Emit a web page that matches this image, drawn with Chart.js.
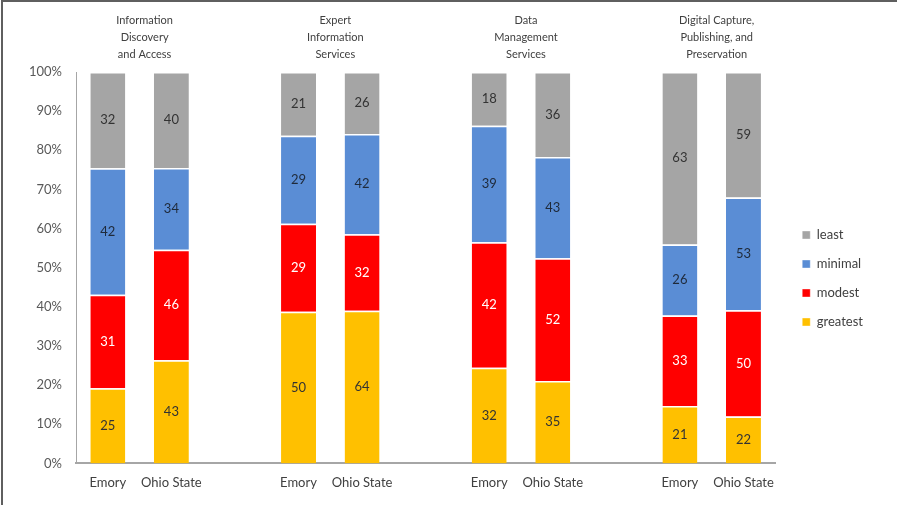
<!DOCTYPE html>
<html>
<head>
<meta charset="utf-8">
<script src="https://cdn.jsdelivr.net/npm/chart.js@4.4.1/dist/chart.umd.min.js"></script>
<style>
  html, body { margin: 0; padding: 0; background: #fff; }
  #wrap { position: relative; width: 897px; height: 505px; }
  #frame { position: absolute; left: 1px; top: 0; right: 0; bottom: 0;
           border-top: 2px solid #5f5f5f; border-left: 2px solid #5f5f5f; pointer-events: none; }
</style>
</head>
<body>
<div id="wrap">
  <canvas id="chart" width="897" height="505"></canvas>
  <div id="frame"></div>
</div>
<script>
// bars, with empty slots used as gaps between the four groups
const categories = ['Emory', 'Ohio State', '', 'Emory', 'Ohio State', '', 'Emory', 'Ohio State', '', 'Emory', 'Ohio State'];
const groupTitles = [
    ['Information', 'Discovery', 'and Access'],
    ['Expert', 'Information', 'Services'],
    ['Data', 'Management', 'Services'],
    ['Digital Capture,', 'Publishing, and', 'Preservation']
];
const groupSlots = [[0, 1], [3, 4], [6, 7], [9, 10]];

// counts shown in the segments
const greatest = [25, 43, null, 50, 64, null, 32, 35, null, 21, 22];
const modest   = [31, 46, null, 29, 32, null, 42, 52, null, 33, 50];
const minimal  = [42, 34, null, 29, 42, null, 39, 43, null, 26, 53];
const least    = [32, 40, null, 21, 26, null, 18, 36, null, 63, 59];

const yTicks = [0, 10, 20, 30, 40, 50, 60, 70, 80, 90, 100];

const totals = categories.map((c, i) =>
    greatest[i] === null ? null : greatest[i] + modest[i] + minimal[i] + least[i]);
const toPct = arr => arr.map((v, i) => v === null ? null : v / totals[i] * 100);

const series = [
    { label: 'greatest', counts: greatest, color: '#FFC000', text: '#333333' },
    { label: 'modest',   counts: modest,   color: '#FF0000', text: '#ffffff' },
    { label: 'minimal',  counts: minimal,  color: '#5A8DD5', text: '#1f2a3a' },
    { label: 'least',    counts: least,    color: '#A5A5A5', text: '#333333' }
];

const FONT = 'Lato, "Liberation Sans", sans-serif';

// count labels in the middle of each segment
const segmentLabels = {
    id: 'segmentLabels',
    afterDatasetsDraw(chart) {
        const ctx = chart.ctx;
        ctx.save();
        ctx.font = '13px ' + FONT;
        ctx.textAlign = 'center';
        ctx.textBaseline = 'middle';
        chart.data.datasets.forEach((ds, di) => {
            const meta = chart.getDatasetMeta(di);
            meta.data.forEach((bar, i) => {
                const v = series[di].counts[i];
                if (v === null) return;
                ctx.fillStyle = series[di].text;
                ctx.fillText(String(v), bar.x, (bar.y + bar.base) / 2);
            });
        });
        ctx.restore();
    }
};

// group headings above each pair of bars
const groupHeadings = {
    id: 'groupHeadings',
    afterDraw(chart) {
        const ctx = chart.ctx;
        const x = chart.scales.x;
        ctx.save();
        ctx.font = '11px ' + FONT;
        ctx.fillStyle = '#404040';
        ctx.textAlign = 'center';
        ctx.textBaseline = 'middle';
        groupTitles.forEach((lines, g) => {
            const cx = (x.getPixelForValue(groupSlots[g][0]) + x.getPixelForValue(groupSlots[g][1])) / 2 + 5;
            lines.forEach((t, k) => ctx.fillText(t, cx, 20 + k * 17));
        });
        ctx.restore();
    }
};

// nudge the legend box: a bit right of the plot and a bit higher
const legendNudge = {
    id: 'legendNudge',
    afterLayout(chart) {
        const lg = chart.legend;
        if (!lg) return;
        lg.left += 11; lg.right += 11;
        lg.top -= 9; lg.bottom -= 9;
    }
};

new Chart(document.getElementById('chart').getContext('2d'), {
    type: 'bar',
    data: {
        labels: categories,
        datasets: series.map(s => ({
            label: s.label,
            data: toPct(s.counts),
            backgroundColor: s.color,
            borderColor: '#ffffff',
            borderWidth: { top: 1.5, bottom: 0, left: 0, right: 0 },
            borderSkipped: false,
            barPercentage: 0.55,
            categoryPercentage: 1.0
        }))
    },
    options: {
        responsive: false,
        animation: false,
        layout: { padding: { top: 72, left: 15, right: 35, bottom: 2 } },
        plugins: {
            legend: {
                position: 'right',
                reverse: true,
                labels: {
                    boxWidth: 8,
                    boxHeight: 8,
                    padding: 16,
                    color: '#404040',
                    font: { family: FONT, size: 13 }
                }
            },
            tooltip: { enabled: false }
        },
        scales: {
            x: {
                stacked: true,
                grid: { display: false, drawTicks: false },
                border: { color: '#a6a6a6', width: 2 },
                ticks: { color: '#404040', padding: 12, maxRotation: 0, autoSkip: false,
                         font: { family: FONT, size: 13 } }
            },
            y: {
                stacked: true,
                min: 0,
                max: 100,
                afterBuildTicks: axis => { axis.ticks = yTicks.map(v => ({ value: v })); },
                grid: { display: false, drawTicks: false },
                border: { color: '#a6a6a6', width: 1 },
                ticks: { color: '#595959', padding: 14, callback: v => v + '%',
                         font: { family: FONT, size: 13 } }
            }
        }
    },
    plugins: [segmentLabels, groupHeadings, legendNudge]
});
</script>
</body>
</html>
